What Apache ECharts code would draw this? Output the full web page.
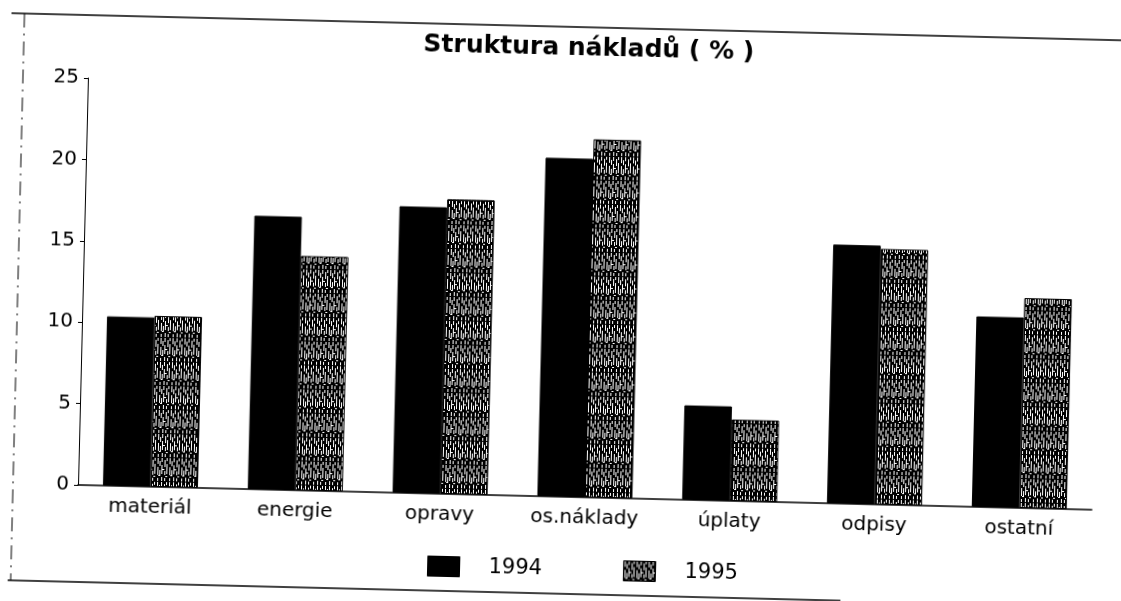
<!DOCTYPE html>
<html>
<head>
<meta charset="utf-8">
<script src="https://cdn.jsdelivr.net/npm/echarts@6/dist/echarts.min.js"></script>
<style>
html,body{margin:0;padding:0;background:#fff;overflow:hidden}
#c{width:1121px;height:601px;transform-origin:80px 485px;transform:rotate(1.4deg)}
</style>
</head>
<body>
<div id="c"></div>
<script>
const categories = ['materiál', 'energie', 'opravy', 'os.náklady', 'úplaty', 'odpisy', 'ostatní'];
const values1994 = [10.4, 16.8, 17.6, 20.8, 5.8, 15.9, 11.7];
const values1995 = [10.5, 14.4, 18.1, 22.0, 5.0, 15.7, 12.9];
const yTicks = [0, 5, 10, 15, 20, 25];

const FONT = 'DejaVu Sans, Verdana, sans-serif';

// texture for 1995 bars: dark ground with broken white vertical streaks (scanned print look)
const pc = document.createElement('canvas');
pc.width = 12; pc.height = 24;
const g = pc.getContext('2d');
g.fillStyle = '#000'; g.fillRect(0, 0, 12, 24);
g.fillStyle = '#fff';
const streaks = [
  [1, 0, 6], [1, 9, 8], [1, 20, 3],
  [3, 3, 5], [3, 12, 6],
  [5, 0, 4], [5, 7, 9], [5, 19, 4],
  [8, 2, 7], [8, 13, 4], [8, 20, 3],
  [10, 0, 3], [10, 6, 10]
];
streaks.forEach(([x, y, h]) => g.fillRect(x, y, 1, h));
g.fillRect(2, 17, 2, 1); g.fillRect(6, 11, 2, 1); g.fillRect(9, 18, 2, 1);
const pattern = { image: pc, repeat: 'repeat' };

const chart = echarts.init(document.getElementById('c'));
chart.setOption({
  backgroundColor: '#fff',
  animation: false,
  title: {
    text: 'Struktura nákladů ( % )',
    left: 573, top: 19, textAlign: 'center',
    textStyle: { fontFamily: FONT, fontSize: 25, fontWeight: 'bold', color: '#000' }
  },
  legend: {
    left: 429, top: 547, padding: 0,
    icon: 'rect',
    itemWidth: 32, itemHeight: 20, itemGap: 81,
    textStyle: { fontFamily: FONT, fontSize: 21, color: '#000', padding: [0, 0, 0, 24] },
    data: [
      { name: '1994', itemStyle: { color: '#000', borderColor: '#000', borderWidth: 1 } },
      { name: '1995', itemStyle: { color: pattern, borderColor: '#000', borderWidth: 1 } }
    ]
  },
  grid: { left: 78, right: 29, top: 78, bottom: 116, containLabel: false },
  xAxis: {
    type: 'category',
    data: categories,
    axisLine: { lineStyle: { color: '#000', width: 1.5 } },
    axisTick: { show: false },
    axisLabel: { fontFamily: FONT, fontSize: 20, color: '#000', margin: 11 }
  },
  yAxis: {
    type: 'value',
    min: 0, max: 25, interval: 5,
    axisLine: { show: true, lineStyle: { color: '#000', width: 1 } },
    axisTick: { show: true, length: 4, lineStyle: { color: '#000' } },
    splitLine: { show: false },
    axisLabel: {
      fontFamily: FONT, fontSize: 20, color: '#000', margin: 9,
      formatter: v => yTicks.includes(v) ? String(v) : ''
    }
  },
  series: [
    {
      name: '1994', type: 'bar', data: values1994,
      barGap: '0%', barCategoryGap: '34.4%',
      itemStyle: { color: '#000', borderColor: '#000', borderWidth: 1 }
    },
    {
      name: '1995', type: 'bar', data: values1995,
      itemStyle: { color: pattern, borderColor: '#000', borderWidth: 1 }
    }
  ],
  graphic: [
    { type: 'line', shape: { x1: 0, y1: 15, x2: 1121, y2: 15 }, style: { stroke: '#000', lineWidth: 1.5 } },
    { type: 'line', shape: { x1: 10, y1: 582, x2: 843, y2: 582 }, style: { stroke: '#000', lineWidth: 1.5 } },
    { type: 'line', shape: { x1: 13, y1: 15, x2: 13, y2: 582 }, style: { stroke: '#000', lineWidth: 1, lineDash: [14, 6, 2, 6] } }
  ]
});
</script>
</body>
</html>
